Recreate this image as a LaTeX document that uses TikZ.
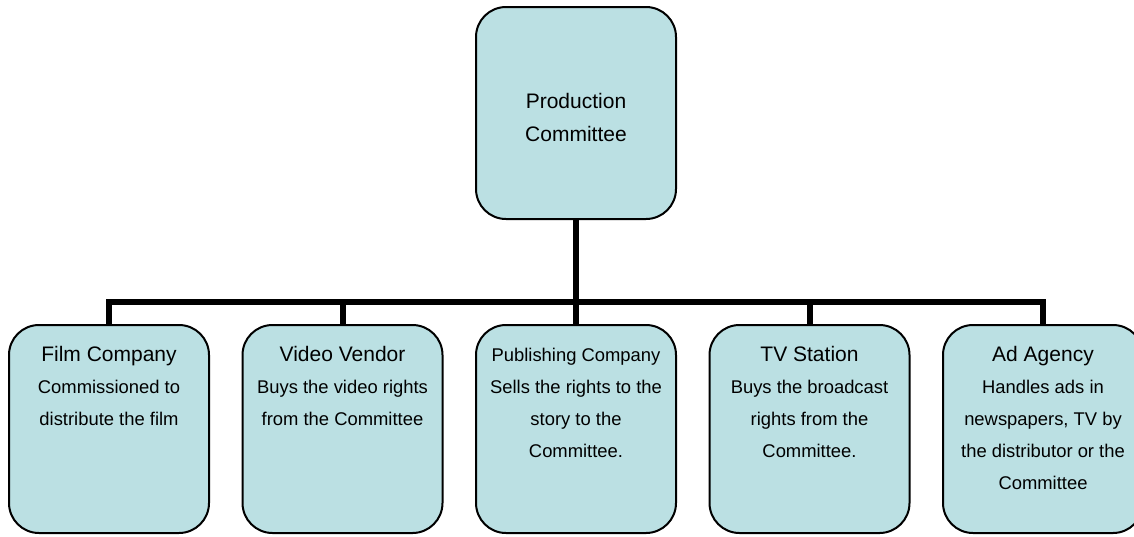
\documentclass[tikz,border=0pt]{standalone}
\usepackage{fontspec}
\setmainfont{Liberation Sans}
\usetikzlibrary{positioning}
\usepackage{xcolor}
\definecolor{c1}{HTML}{BBE0E3}
\tikzset{
  card/.style={draw,fill=c1,line width=1.5pt,rounded corners=22.5pt,
    minimum width=150pt,minimum height=156pt,inner sep=0pt},
  cardtext/.style={inner sep=0pt,align=center,font=\fontsize{13.8}{24}\selectfont},
  bus/.style={line width=4.5pt,line join=miter}
}
\newcommand{\cardtitle}[1]{{\fontsize{15.75}{24}\selectfont #1}}

\begin{document}
\begin{tikzpicture}[x=0.75pt,y=-0.75pt]
  \useasboundingbox (0,0) rectangle (1134,536);
  \coordinate (bus) at (576,301.5);
  % boxes
  \node[card,minimum height=159pt] (prod) at (576,113) {};
  \node[card] (film) at (109,429) {};
  \node[card] (video) at (342.5,429) {};
  \node[card] (publ) at (576,429) {};
  \node[card] (tv) at (809.5,429) {};
  \node[card] (ad) at (1043,429) {};
  % connectors
  \draw[bus] (prod.south) -- (bus);
  \draw[bus] (film.north) -- (film.north |- bus) -- (ad.north |- bus) -- (ad.north);
  \draw[bus] (video.north) -- (video.north |- bus);
  \draw[bus] (publ.north) -- (publ.north |- bus);
  \draw[bus] (tv.north) -- (tv.north |- bus);
  % texts
  \node[cardtext,font=\fontsize{15.75}{24.75}\selectfont,below=65pt of prod.north] (prodtxt)
    {Production\\Committee};
  \node[cardtext,below=16.6pt of film.north] (filmtxt)
    {\cardtitle{Film Company}\\Commissioned to\\distribute the film};
  \node[cardtext,below=16.6pt of video.north] (videotxt)
    {\cardtitle{Video Vendor}\\Buys the video rights\\from the Committee};
  \node[cardtext,below=17.8pt of publ.north] (publtxt)
    {Publishing Company\\Sells the rights to the\\story to the\\Committee.};
  \node[cardtext,below=16.6pt of tv.north] (tvtxt)
    {\cardtitle{TV Station}\\Buys the broadcast\\rights from the\\Committee.};
  \node[cardtext,below=16.6pt of ad.north] (adtxt)
    {\cardtitle{Ad Agency}\\Handles ads in\\newspapers, TV by\\the distributor or the\\Committee};
\end{tikzpicture}
\end{document}
